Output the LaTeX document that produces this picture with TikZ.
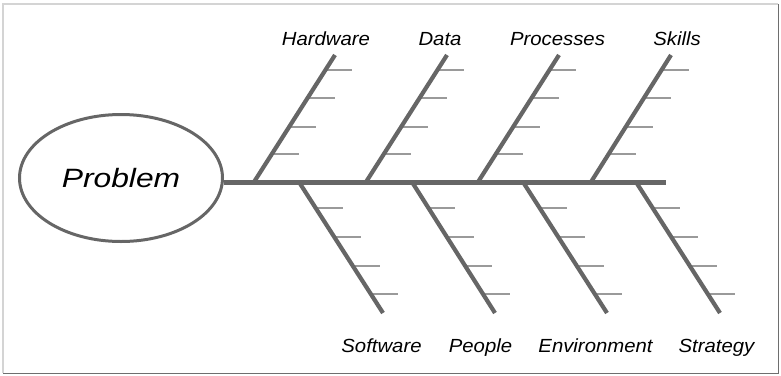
\documentclass[tikz,border=0pt]{standalone}
\usepackage{fontspec}
\setmainfont{Liberation Sans}
\usepackage{graphicx}
\usetikzlibrary{shapes.geometric,calc}
\definecolor{bonegray}{HTML}{666666}
\definecolor{tickgray}{HTML}{9A9A9A}
\definecolor{framelight}{HTML}{D4D4D4}
\definecolor{framedark}{HTML}{6E6E6E}
\begin{document}
\begin{tikzpicture}[x=1pt,y=-1pt,
  spinestyle/.style={draw=bonegray,line width=5pt},
  bonestyle/.style={draw=bonegray,line width=4.2pt},
  tickstyle/.style={draw=tickgray,line width=2pt},
  lbl/.style={font=\fontsize{19}{19}\selectfont\itshape,inner sep=0pt,anchor=base,xscale=1.07}]
\useasboundingbox (0,0) rectangle (781,375);
% frame
\draw[framelight,line width=2pt] (3,373) -- (3,4) -- (778,4);
\draw[framedark,line width=1pt] (3,373.5) -- (778.5,373.5) -- (778.5,4);
% head
\node[ellipse,draw=bonegray,line width=3pt,minimum width=203pt,minimum height=127pt,inner sep=0pt]
  (problem) at (121,178) {\fontsize{26.5}{26.5}\selectfont\itshape\scalebox{1.2}[1]{Problem}};
% coordinates
\coordinate (tail) at (666,182);
\coordinate (ub1) at (254,182); \coordinate (ut1) at (335,55);
\coordinate (ub2) at (366,182); \coordinate (ut2) at (447,55);
\coordinate (ub3) at (478,182); \coordinate (ut3) at (559,55);
\coordinate (ub4) at (591,182); \coordinate (ut4) at (671,55);
\coordinate (lb1) at (299,182); \coordinate (lt1) at (383,313);
\coordinate (lb2) at (412,182); \coordinate (lt2) at (495,313);
\coordinate (lb3) at (523,182); \coordinate (lt3) at (607,313);
\coordinate (lb4) at (636,182); \coordinate (lt4) at (720,313);
% ticks
\foreach \i in {1,2,3,4}{
  \foreach \t in {0.882,0.661,0.433,0.220}{
    \draw[tickstyle] ($(ub\i)!\t!(ut\i)$) -- ++(27,0);
  }
  \foreach \t in {0.198,0.420,0.641,0.855}{
    \draw[tickstyle] ($(lb\i)!\t!(lt\i)$) -- ++(27,0);
  }
}
% spine
\draw[spinestyle] (problem.east |- tail) -- (tail);
% bones
\foreach \i in {1,2,3,4}{
  \draw[bonestyle] (ub\i) -- (ut\i);
  \draw[bonestyle] (lb\i) -- (lt\i);
}
% labels
\node[lbl] (hardware) at (326,45) {Hardware};
\node[lbl] (data) at (440,45) {Data};
\node[lbl] (processes) at (557.5,45) {Processes};
\node[lbl] (skills) at (677,45) {Skills};
\node[lbl] (software) at (381.5,352) {Software};
\node[lbl] (people) at (480.5,352) {People};
\node[lbl] (environment) at (595.5,352) {Environment};
\node[lbl] (strategy) at (716.5,352) {Strategy};
\end{tikzpicture}
\end{document}
